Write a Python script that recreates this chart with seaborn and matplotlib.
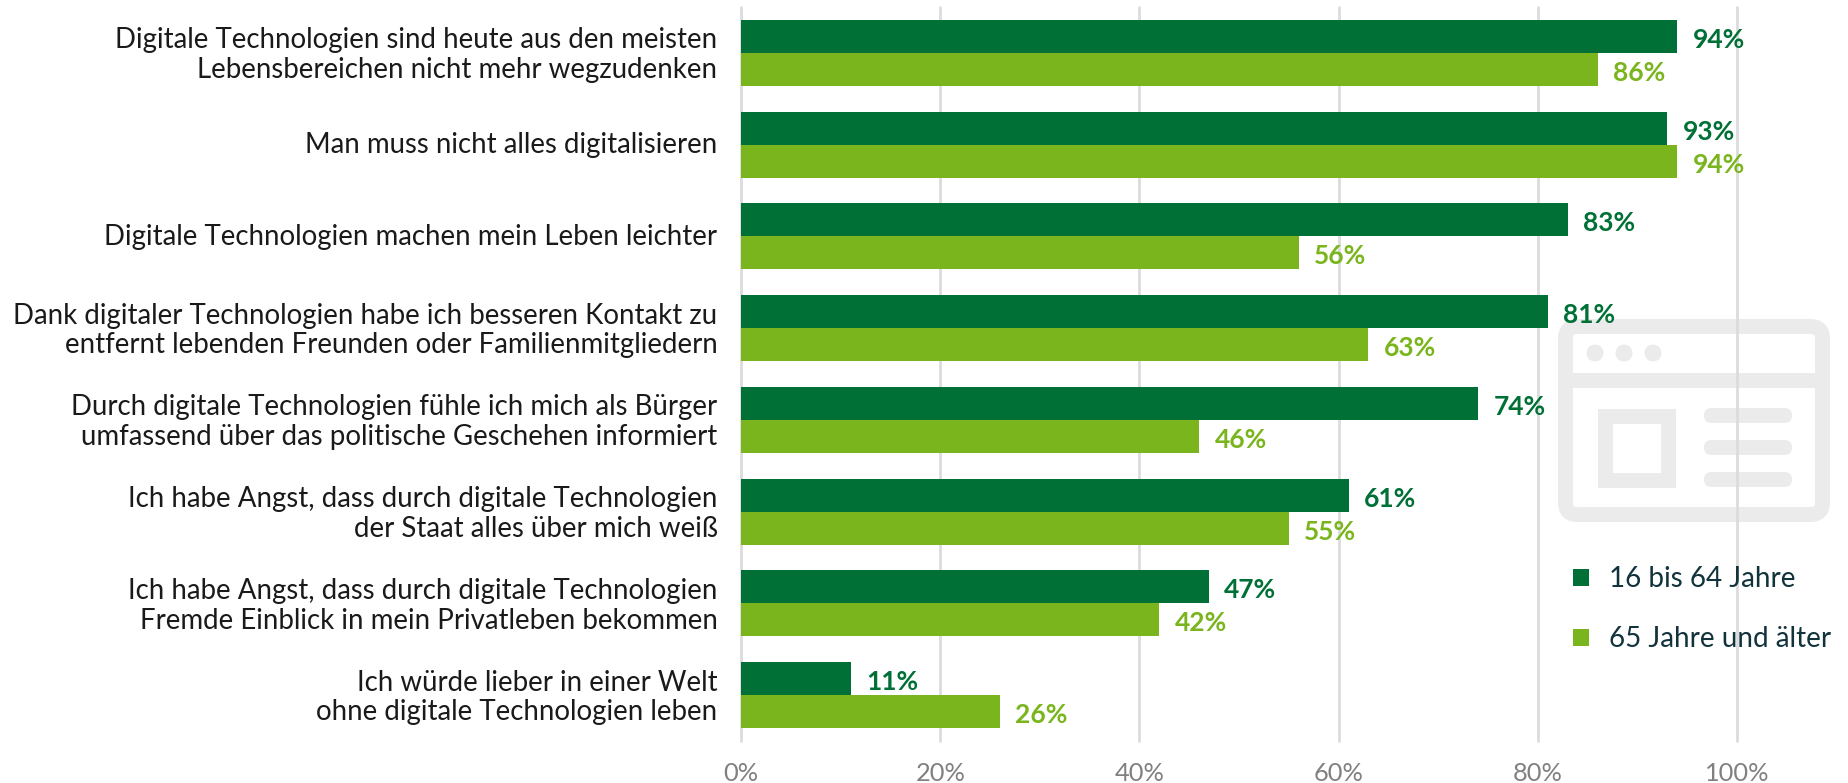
import pandas as pd
import matplotlib.pyplot as plt
import seaborn as sns
from matplotlib.patches import Circle, FancyBboxPatch, Rectangle
from matplotlib.transforms import ScaledTranslation

statements = [
    'Digitale Technologien sind heute aus den meisten\nLebensbereichen nicht mehr wegzudenken',
    'Man muss nicht alles digitalisieren',
    'Digitale Technologien machen mein Leben leichter',
    'Dank digitaler Technologien habe ich besseren Kontakt zu\nentfernt lebenden Freunden oder Familienmitgliedern',
    'Durch digitale Technologien fühle ich mich als Bürger\numfassend über das politische Geschehen informiert',
    'Ich habe Angst, dass durch digitale Technologien\nder Staat alles über mich weiß',
    'Ich habe Angst, dass durch digitale Technologien\nFremde Einblick in mein Privatleben bekommen',
    'Ich würde lieber in einer Welt\nohne digitale Technologien leben',
]
younger = [94, 93, 83, 81, 74, 61, 47, 11]
older = [86, 94, 56, 63, 46, 55, 42, 26]
groups = ['16 bis 64 Jahre', '65 Jahre und älter']
colors = ['#007036', '#7ab51d']
x_ticks = [0, 20, 40, 60, 80, 100]

sns.set_theme(style='white')
plt.rcParams['font.family'] = ['Lato', 'DejaVu Sans']

df = pd.DataFrame({
    'statement': statements * 2,
    'value': younger + older,
    'group': [groups[0]] * len(younger) + [groups[1]] * len(older),
})

W, H = 1848, 783
fig = plt.figure(figsize=(W / 100, H / 100), dpi=100)

# grey browser icon sits behind the plot, drawn in pixel coordinates
bg = fig.add_axes([0, 0, 1, 1], zorder=0)
bg.set_xlim(0, W)
bg.set_ylim(H, 0)
bg.axis('off')
grey = '#ebebeb'
stroke = 15 * 0.72
bg.add_patch(FancyBboxPatch((1577.5, 338.5), 233, 164, boxstyle='round,pad=12,rounding_size=12',
                            fc='none', ec=grey, lw=stroke))
bg.add_patch(Rectangle((1558, 373), 272, 15, fc=grey, ec='none'))
for cx in [1595, 1624, 1653]:
    bg.add_patch(Circle((cx, 353), 8.5, fc=grey, ec='none'))
bg.add_patch(Rectangle((1604.5, 415.5), 63.5, 64, fc='none', ec=grey, lw=stroke))
for cy in [415.5, 447.5, 479.5]:
    bg.add_patch(FancyBboxPatch((1711.5, cy), 73, 0, boxstyle='round,pad=7.5,rounding_size=7.5', fc=grey, ec='none'))

ax = fig.add_axes([741 / W, 1 - 741 / H, (1737 - 741) / W, (741 - 7) / H], zorder=1)
ax.patch.set_alpha(0)
sns.barplot(data=df, y='statement', x='value', hue='group', palette=colors, saturation=1,
            width=0.72, gap=0, orient='h', linewidth=0, ax=ax)

ax.set_xlim(0, 100)
ax.set_ylim(7.5, -0.5)
ax.set_xlabel('')
ax.set_ylabel('')
ax.set_xticks(x_ticks, [f'{t}%' for t in x_ticks])
ax.tick_params(axis='x', length=0, pad=15, labelsize=18.3, labelcolor='#808080')
ax.tick_params(axis='y', length=0, pad=17, labelsize=19.9, labelcolor='#1a1a1a')
lift = ScaledTranslation(0, 2 / 100, fig.dpi_scale_trans)
for label in ax.get_yticklabels():
    label.set_linespacing(1.18)
    label.set_transform(label.get_transform() + lift)
sns.despine(ax=ax, left=True, bottom=True)
ax.set_axisbelow(True)
ax.grid(axis='x', color='#dcdcdc', lw=2, clip_on=False)

for container, color in zip(ax.containers, colors):
    texts = ax.bar_label(container, fmt='%d%%', padding=11, color=color, fontsize=19, fontweight='bold', clip_on=False)
    for t in texts:
        t.xyann = (t.xyann[0], -2.5)

sns.move_legend(ax, 'upper left', bbox_to_anchor=(1545.5 / W, 1 - 538.5 / H), bbox_transform=fig.transFigure,
                frameon=False, title=None, fontsize=20, labelcolor='#12323c', handlelength=0.58, handleheight=0.58,
                handletextpad=0.72, labelspacing=1.23, borderpad=0.5)

fig.savefig('out.png', dpi=100)
